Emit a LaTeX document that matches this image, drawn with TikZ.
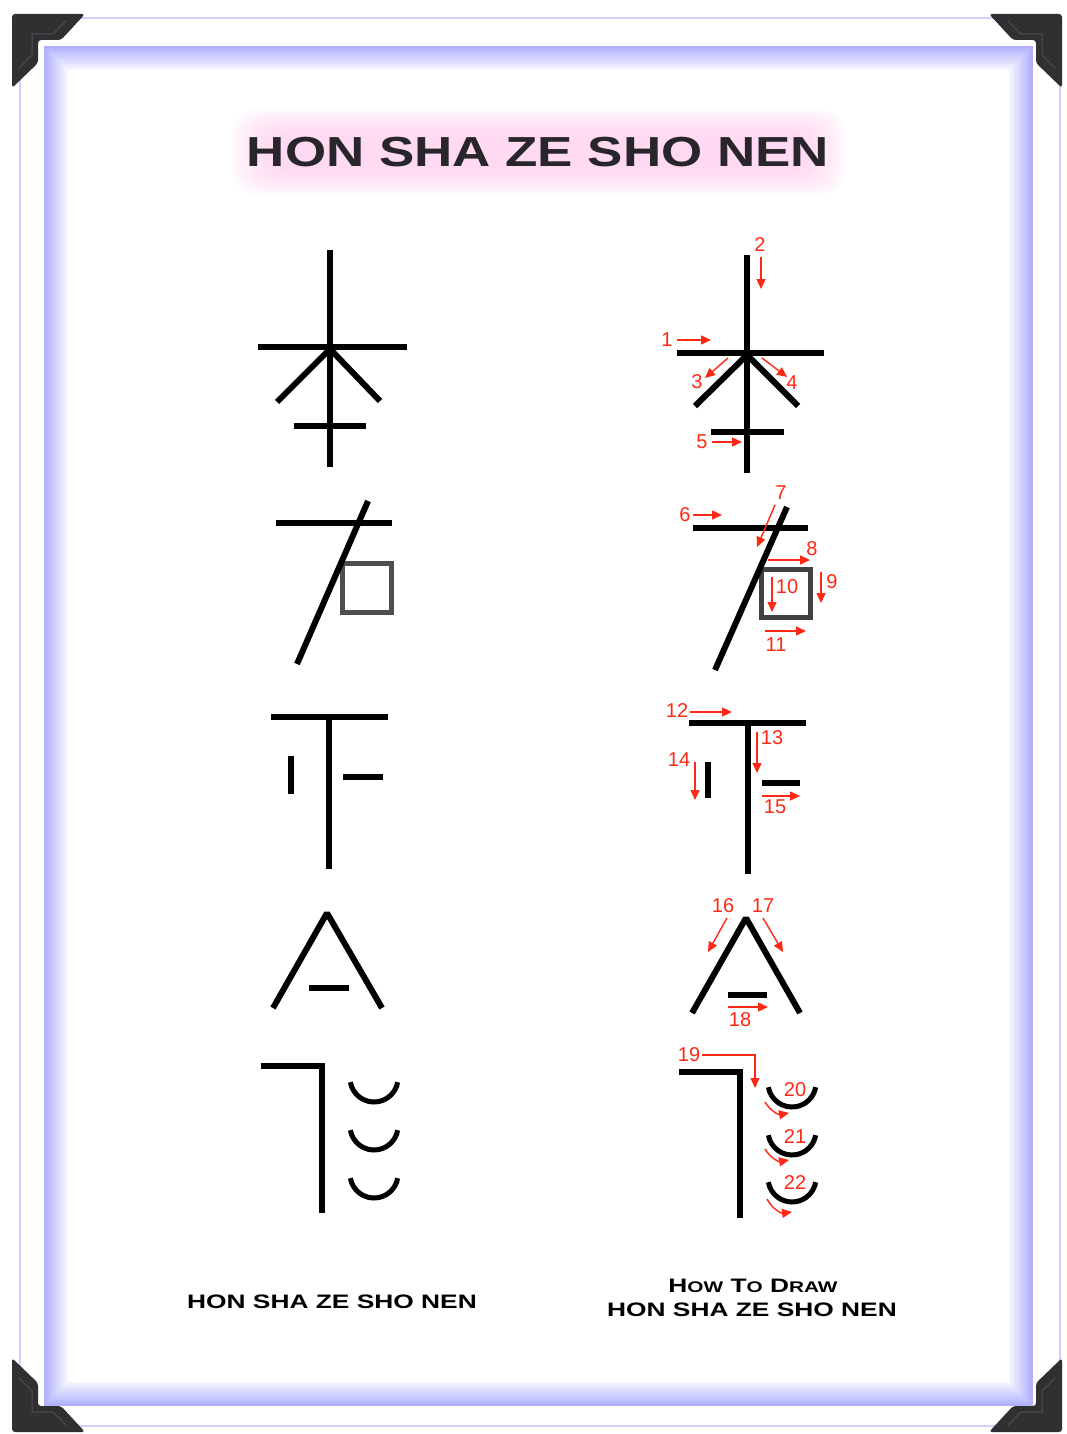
\documentclass[tikz,border=0pt]{standalone}
\usepackage{fontspec}
\setmainfont{Liberation Sans}
\newfontfamily\titlefont[FakeStretch=1.26]{Liberation Sans}
\newfontfamily\capfont[FakeStretch=1.35]{Liberation Sans}
\usetikzlibrary{arrows.meta}
\newcommand{\smallcap}[1]{{\fontsize{15.4}{15.4}\selectfont #1}}

\begin{document}
\begin{tikzpicture}[x=1pt,y=-1pt,
  stroke/.style={line width=6pt},
  boxstroke/.style={line width=5pt, draw=boxgray},
  smilestroke/.style={line width=5pt},
  num/.style={text=strokered, font=\fontsize{20}{20}\selectfont, inner sep=0pt},
  redarrow/.style={draw=strokered, line width=1.4pt, -{Triangle[length=10pt,width=9pt]}},
  caplabel/.style={inner sep=0pt, text=black, font=\capfont\bfseries\fontsize{19.5}{24}\selectfont}]
  \definecolor{framelav}{RGB}{150,150,255}
  \definecolor{cornergray}{RGB}{48,48,50}
  \definecolor{cornerlight}{RGB}{80,80,84}
  \definecolor{titleglow}{RGB}{255,190,235}
  \definecolor{titlegray}{RGB}{40,38,42}
  \definecolor{boxgray}{RGB}{78,78,78}
  \definecolor{strokered}{RGB}{255,40,20}
  \def\smilerad{24}
  \useasboundingbox (0,0) rectangle (1067,1434);
  \fill[white] (0,0) rectangle (1067,1434);
  % frame
  \draw[framelav!45, line width=2pt, fill=white] (20,18) rectangle (1060,1426);
  \foreach \i [evaluate=\i as \op using 0.75-0.06*\i] in {0,...,11}
    \draw[framelav, line width=2.2pt, draw opacity=\op] ({45+2*\i},{47+2*\i}) rectangle ({1032-2*\i},{1405-2*\i});
  \foreach \cx/\cy/\sx/\sy in {12/14/1/1, 1062/14/-1/1, 12/1432/1/-1, 1062/1432/-1/-1}{
    \begin{scope}[shift={(\cx,\cy)}, xscale=\sx, yscale=\sy]
      \fill[cornergray, rounded corners=3pt] (0,0) -- (73,0) -- (49,26) -- (26,26) -- (26,49) -- (0,74) -- cycle;
      \draw[cornerlight, line width=1pt] (54,7) -- (41,20) -- (20,20) -- (20,41) -- (7,54);
    \end{scope}
  }
  % title
  \foreach \i in {0,...,7}
    \fill[titleglow, opacity=0.09, rounded corners=24pt] ({232+5*\i},{110+3*\i}) rectangle ({846-5*\i},{194-3*\i});
  \node[inner sep=0pt, text=titlegray, font=\titlefont\bfseries\fontsize{42}{42}\selectfont] (title) at (538,152) {HON SHA ZE SHO NEN};

  % left column
  \draw[stroke] (330,250) -- (330,467);
  \draw[stroke] (258,347) -- (407,347);
  \draw[stroke] (330,349) -- (277,402);
  \draw[stroke] (330,349) -- (380,401);
  \draw[stroke] (294,426) -- (366,426);

  \draw[boxstroke] (342.5,563.5) rectangle (391.5,612.5);
  \draw[stroke] (276,523) -- (392,523);
  \draw[stroke] (368,501) -- (297,664);

  \draw[stroke] (271,717) -- (388,717);
  \draw[stroke] (329,717) -- (329,869);
  \draw[stroke] (291,756) -- (291,794);
  \draw[stroke] (343,777) -- (383,777);

  \draw[stroke, line join=bevel] (273,1008) -- (327,913) -- (382,1008);
  \draw[stroke] (309,988) -- (349,988);

  \draw[stroke] (261,1066) -- (322,1066) -- (322,1213);
  \foreach \ty in {1078,1126,1174}
    \draw[smilestroke] ([shift={(190:\smilerad pt)}]374,\ty) arc[start angle=190, end angle=350, radius=\smilerad pt];

  % right column
  \draw[stroke] (747,255) -- (747,473);
  \draw[stroke] (677,353) -- (824,353);
  \draw[stroke] (747,355) -- (695,406);
  \draw[stroke] (747,355) -- (798,406);
  \draw[stroke] (711,432) -- (784,432);

  \draw[boxstroke, draw=boxgray!85!black] (761.5,569.5) rectangle (810.5,617.5);
  \draw[stroke] (693,528) -- (808,528);
  \draw[stroke] (787,507) -- (715,670);

  \draw[stroke] (689,723) -- (806,723);
  \draw[stroke] (748,723) -- (748,874);
  \draw[stroke] (708,762) -- (708,798);
  \draw[stroke] (762,783) -- (800,783);

  \draw[stroke, line join=bevel] (692,1013) -- (746,918) -- (800,1013);
  \draw[stroke] (728,995) -- (767,995);

  \draw[stroke] (679,1072) -- (740,1072) -- (740,1218);
  \foreach \ty in {1083,1131,1178}
    \draw[smilestroke] ([shift={(190:\smilerad pt)}]792,\ty) arc[start angle=190, end angle=350, radius=\smilerad pt];

  % stroke order
  \node[num] (n1) at (667,340) {1};
  \draw[redarrow] (677,340) -- (711,340);
  \node[num] (n2) at (760,245) {2};
  \draw[redarrow] (761,257) -- (761,289);
  \node[num] (n3) at (697,382) {3};
  \draw[redarrow] (728,358) -- (705,378);
  \node[num] (n4) at (792,383) {4};
  \draw[redarrow] (762,358) -- (787,377);
  \node[num] (n5) at (702,442) {5};
  \draw[redarrow] (712,442) -- (742,442);

  \node[num] (n6) at (685,515) {6};
  \draw[redarrow] (693,515) -- (722,515);
  \node[num] (n7) at (781,493) {7};
  \draw[redarrow] (775,505) -- (757,547);
  \node[num] (n8) at (812,549) {8};
  \draw[redarrow] (768,560) -- (810,560);
  \node[num] (n9) at (832,582) {9};
  \draw[redarrow] (821,572) -- (821,603);
  \node[num] (n10) at (787,587) {10};
  \draw[redarrow] (772,577) -- (772,612);
  \node[num] (n11) at (776,645) {11};
  \draw[redarrow] (765,631) -- (806,631);

  \node[num] (n12) at (677,711) {12};
  \draw[redarrow] (690,712) -- (732,712);
  \node[num] (n13) at (772,738) {13};
  \draw[redarrow] (757,732) -- (757,773);
  \node[num] (n14) at (679,760) {14};
  \draw[redarrow] (695,762) -- (695,800);
  \node[num] (n15) at (775,807) {15};
  \draw[redarrow] (762,796) -- (800,796);

  \node[num] (n16) at (723,906) {16};
  \draw[redarrow] (727,918) -- (708,952);
  \node[num] (n17) at (763,906) {17};
  \draw[redarrow] (763,918) -- (783,952);
  \node[num] (n18) at (740,1020) {18};
  \draw[redarrow] (728,1007) -- (768,1007);

  \node[num] (n19) at (689,1055) {19};
  \draw[redarrow, line width=1.2pt] (702,1055) -- (755,1055) -- (755,1088);
  \node[num] (n20) at (795,1090) {20};
  \node[num] (n21) at (795,1137) {21};
  \node[num] (n22) at (795,1183) {22};
  \draw[redarrow] (765,1102) to[bend right=35] (789,1113);
  \draw[redarrow] (765,1149) to[bend right=35] (789,1160);
  \draw[redarrow] (767,1199) to[bend right=35] (792,1212);

  % captions
  \node[caplabel] (leftcap) at (332,1302) {HON SHA ZE SHO NEN};
  \node[caplabel] (howto) at (753,1286) {H\smallcap{OW} T\smallcap{O} D\smallcap{RAW}};
  \node[caplabel] (rightcap) at (752,1310) {HON SHA ZE SHO NEN};
\end{tikzpicture}
\end{document}
